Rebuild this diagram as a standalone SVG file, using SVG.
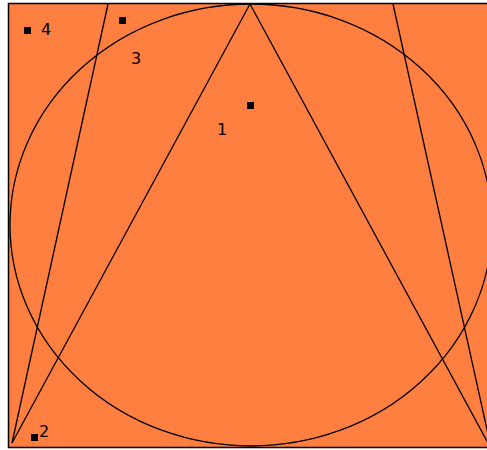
<svg xmlns="http://www.w3.org/2000/svg" width="487" height="450" viewBox="0 0 487 450">
<style>
.ln{fill:none;stroke:#000;stroke-width:1.3}
.pt{fill:#000}
.lb{font-family:"DejaVu Sans","Liberation Sans",sans-serif;font-size:16px;fill:#000}
</style>
<rect x="0" y="0" width="487" height="450" fill="#fff"/>
<rect x="8.5" y="3.5" width="490" height="444" fill="#FF7F40" stroke="#000" stroke-width="1.5"/>
<g id="connectors">
<ellipse class="ln" cx="251" cy="225" rx="241" ry="221"/>
<line class="ln" x1="250" y1="4" x2="12" y2="443"/>
<line class="ln" x1="250" y1="4" x2="488" y2="443"/>
<line class="ln" x1="108" y1="4" x2="12" y2="443"/>
<line class="ln" x1="393" y1="4" x2="490" y2="443"/>
</g>
<g id="p1"><rect class="pt" x="247" y="102" width="7" height="7"/><text class="lb" x="217" y="135">1</text></g>
<g id="p2"><rect class="pt" x="31" y="434" width="7" height="7"/><text class="lb" x="39" y="437">2</text></g>
<g id="p3"><rect class="pt" x="119" y="17" width="7" height="7"/><text class="lb" x="131" y="64">3</text></g>
<g id="p4"><rect class="pt" x="24" y="27" width="7" height="7"/><text class="lb" x="41" y="35">4</text></g>
</svg>
